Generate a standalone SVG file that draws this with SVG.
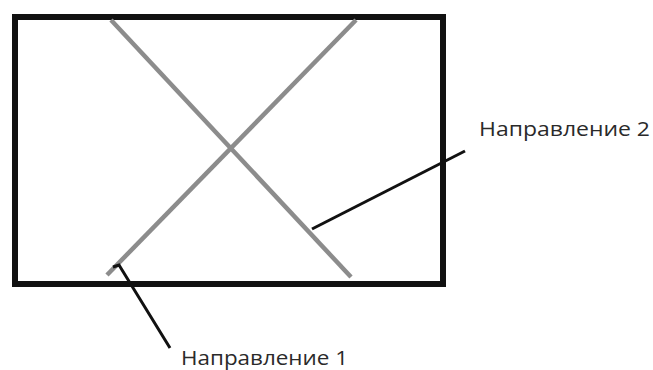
<svg xmlns="http://www.w3.org/2000/svg" width="653" height="370" viewBox="0 0 653 370">
<style>
.frame{fill:none;stroke:#111;stroke-width:6}
.dir{stroke:#8c8c8c;stroke-width:4.5;stroke-linecap:butt}
.lead{stroke:#111;stroke-width:3;fill:none}
.lbl{font-family:"Open Sans","Noto Sans",sans-serif;font-size:19.5px;fill:#2a2a2a}
</style>
<rect width="653" height="370" fill="#fff"/>
<g id="frame"><rect class="frame" x="15" y="17" width="428" height="267"/></g>
<g id="direction1"><line class="dir" x1="356" y1="20" x2="107" y2="275"/></g>
<g id="direction2"><line class="dir" x1="111" y1="20" x2="351" y2="277"/></g>
<g id="connectors">
<polyline class="lead" points="113,267 119,265 170,348"/>
<line class="lead" x1="312" y1="229" x2="465" y2="151"/>
</g>
<g id="label1"><text class="lbl" x="181" y="365" textLength="167" lengthAdjust="spacingAndGlyphs">Направление 1</text></g>
<g id="label2"><text class="lbl" x="479" y="136" textLength="171" lengthAdjust="spacingAndGlyphs">Направление 2</text></g>
</svg>
